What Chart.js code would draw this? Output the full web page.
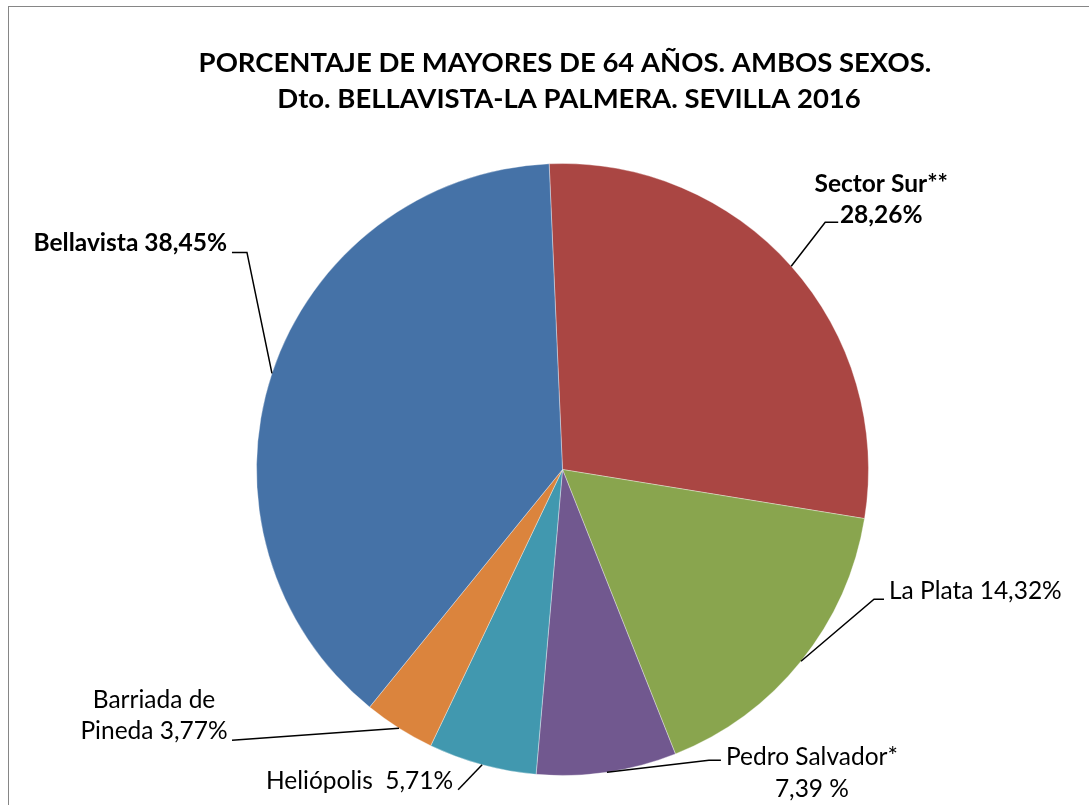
<!DOCTYPE html>
<html>
<head>
<meta charset="utf-8">
<script src="https://cdn.jsdelivr.net/npm/chart.js@4"></script>
<style>
  html, body { margin: 0; padding: 0; background: #fff; }
  canvas { display: block; }
</style>
</head>
<body>
<canvas id="c" width="1089" height="805"></canvas>
<script>
// ---- data ----
const categories = ['Sector Sur**', 'La Plata', 'Pedro Salvador*', 'Heliópolis', 'Barriada de Pineda', 'Bellavista'];
const shares = [28.26, 16.42, 7.39, 5.71, 3.77, 38.45];   // slice sizes as drawn
const labelTexts = [
  ['Sector Sur**', '28,26%'],
  ['La Plata 14,32%'],
  ['Pedro Salvador*', '7,39 %'],
  ['Heliópolis  5,71%'],
  ['Barriada de', 'Pineda 3,77%'],
  ['Bellavista 38,45%']
];
const titleLines = ['PORCENTAJE DE MAYORES DE 64 AÑOS. AMBOS SEXOS.', 'Dto. BELLAVISTA-LA PALMERA. SEVILLA 2016'];

// ---- styles / layout ----
const colors = ['#AA4643', '#89A54E', '#71588F', '#4198AF', '#DB843D', '#4572A7'];
const FONT = 'Lato, Carlito, "Open Sans", sans-serif';
const labelBold = [true, false, false, false, false, true];
// leader-line geometry relative to the slice's mid-arc point:
// elbow offset, horizontal run, text anchor relative to run end, alignment, line gap
const labelLayout = [
  { ex: 34, ey: -44, h: 13, tx: 43, ty: -30, align: 'center', gap: 31 },
  { ex: 73, ey: -62, h: 10, tx: 5, ty: 0, align: 'left', gap: 31 },
  { ex: 102, ey: -12, h: 12, tx: 91, ty: 5, align: 'center', gap: 32 },
  { ex: -24, ey: 25, h: 0, tx: -5, ty: -1, align: 'right', gap: 31 },
  { ex: -167, ey: 12, h: 0, tx: -78, ty: -32, align: 'center', gap: 31 },
  { ex: -25, ey: -121, h: -15, tx: -5, ty: -1, align: 'right', gap: 31 }
];

const decor = {
  id: 'decor',
  beforeDraw(chart) {
    const ctx = chart.ctx;
    ctx.save();
    ctx.fillStyle = '#fff';
    ctx.fillRect(0, 0, chart.width, chart.height);
    ctx.strokeStyle = '#868686';
    ctx.lineWidth = 1;
    ctx.strokeRect(8.5, 6.5, 1200, 900);
    ctx.restore();
  },
  afterDraw(chart) {
    const ctx = chart.ctx;
    ctx.save();
    // title
    ctx.fillStyle = '#000';
    ctx.textAlign = 'center';
    ctx.textBaseline = 'alphabetic';
    ctx.font = 'bold 27.5px ' + FONT;
    ctx.fillText(titleLines[0], 565, 72);
    ctx.fillText(titleLines[1], 569, 108);

    // labels with leader lines
    const meta = chart.getDatasetMeta(0);
    meta.data.forEach((arc, i) => {
      const p = arc.getProps(['x', 'y', 'startAngle', 'endAngle', 'outerRadius'], true);
      const mid = (p.startAngle + p.endAngle) / 2;
      const ax = p.x + Math.cos(mid) * p.outerRadius;
      const ay = p.y + Math.sin(mid) * p.outerRadius;
      const L = labelLayout[i];
      const bx = ax + L.ex, by = ay + L.ey;
      const cx = bx + L.h, cy = by;
      ctx.strokeStyle = '#000';
      ctx.lineWidth = 1.5;
      ctx.beginPath();
      ctx.moveTo(ax, ay);
      ctx.lineTo(bx, by);
      ctx.lineTo(cx, cy);
      ctx.stroke();
      ctx.font = (labelBold[i] ? 'bold ' : '') + '24.5px ' + FONT;
      ctx.textAlign = L.align;
      ctx.fillStyle = '#000';
      labelTexts[i].forEach((t, k) => {
        ctx.fillText(t, cx + L.tx, cy + L.ty + k * L.gap);
      });
    });
    ctx.restore();
  }
};

new Chart(document.getElementById('c'), {
  type: 'pie',
  data: {
    labels: categories,
    datasets: [{
      data: shares,
      backgroundColor: colors,
      borderColor: 'rgba(255,255,255,0.35)',
      borderWidth: 1
    }]
  },
  options: {
    responsive: false,
    animation: false,
    rotation: -2.5,
    layout: { padding: { top: 163, bottom: 29, left: 256, right: 220 } },
    plugins: {
      legend: { display: false },
      tooltip: { enabled: false },
      title: { display: false }
    }
  },
  plugins: [decor]
});
</script>
</body>
</html>
